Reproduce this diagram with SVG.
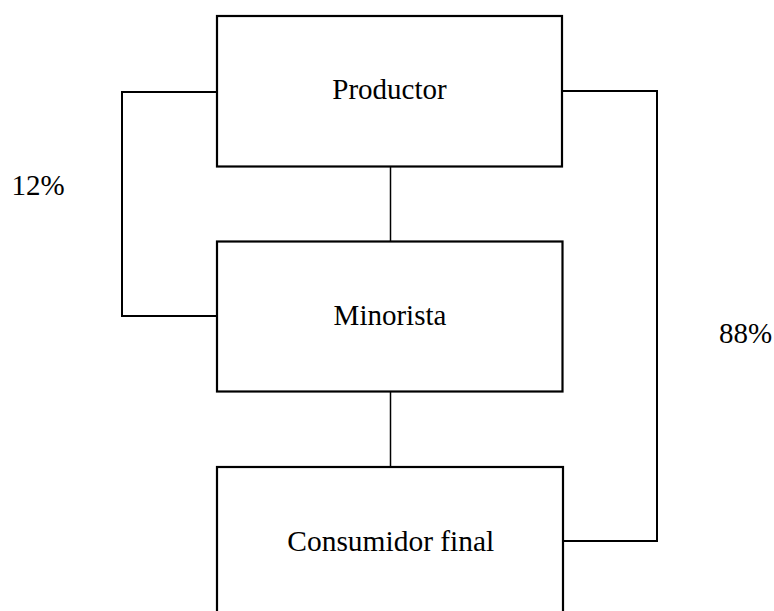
<svg xmlns="http://www.w3.org/2000/svg" width="774" height="611" viewBox="0 0 774 611">
<style>
.box{fill:#fff;stroke:#000;stroke-width:2.2}
.conn{fill:none;stroke:#000;stroke-width:2}
.thin{fill:none;stroke:#000;stroke-width:1.5}
text{font-family:"Liberation Serif","Times New Roman",serif;font-size:29px;fill:#000}
.c{text-anchor:middle}
</style>
<rect width="774" height="611" fill="#fff"/>
<g id="connectors">
<polyline class="conn" points="217,92 122,92 122,316 217,316"/>
<polyline class="conn" points="562,91 657,91 657,541 563,541"/>
<line class="thin" x1="390.5" y1="166.5" x2="390.5" y2="241.5"/>
<line class="thin" x1="390.5" y1="391.5" x2="390.5" y2="467"/>
</g>
<g id="productor">
<rect class="box" x="217" y="16" width="345" height="150.5"/>
<text class="c" x="389.5" y="99">Productor</text>
</g>
<g id="minorista">
<rect class="box" x="217" y="241.5" width="345.5" height="150"/>
<text class="c" x="390" y="325">Minorista</text>
</g>
<g id="consumidor">
<rect class="box" x="217" y="467" width="346" height="170"/>
<text class="c" x="390.8" y="550.5" textLength="207" lengthAdjust="spacingAndGlyphs">Consumidor final</text>
</g>
<g id="labels">
<text x="11.5" y="195">12%</text>
<text x="719" y="343">88%</text>
</g>
</svg>
